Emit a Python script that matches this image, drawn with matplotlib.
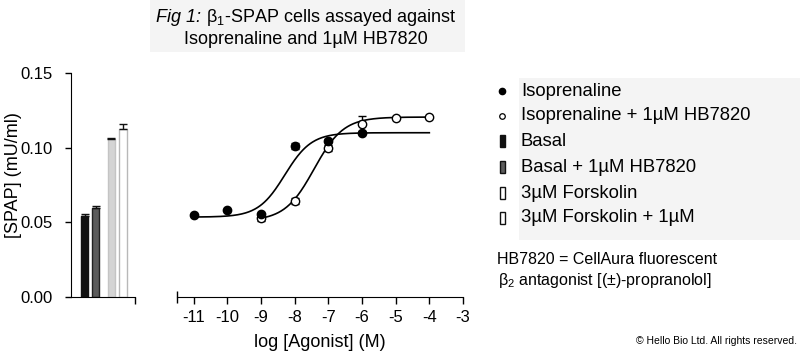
"""
Fig 1: beta1-SPAP cells assayed against isoprenaline and 1uM HB7820.
Bar panel (basal / forskolin) plus concentration-response curves.
"""

import matplotlib
matplotlib.use("Agg")
import matplotlib.pyplot as plt
from matplotlib.patches import Rectangle
from matplotlib.lines import Line2D
import numpy as np

plt.rcParams["font.family"] = ["Liberation Sans", "DejaVu Sans"]
plt.rcParams["mathtext.fontset"] = "custom"
plt.rcParams["mathtext.rm"] = "Liberation Sans"
plt.rcParams["mathtext.it"] = "Liberation Sans:italic"

# bar panel
bar_labels = ["Basal", "Basal + 1µM HB7820", "3µM Forskolin", "3µM Forskolin + 1µM"]
bar_values = [0.0543, 0.0598, 0.1060, 0.1127]
bar_errors = [0.0013, 0.0014, 0.0002, 0.0032]

# concentration-response points
log_iso = [-11, -10, -9, -8, -7, -6]
spap_iso = [0.0547, 0.0580, 0.0558, 0.1009, 0.1045, 0.1100]
err_iso = [0.0, 0.0, 0.0, 0.0020, 0.0010, 0.0]

log_iso_hb = [-9, -8, -7, -6, -5, -4]
spap_iso_hb = [0.0527, 0.0641, 0.1000, 0.1159, 0.1197, 0.1204]
err_iso_hb = [0.0015, 0.0020, 0.0020, 0.0050, 0.0, 0.0]

# sigmoid fit parameters (bottom, top, logEC50, hill)
fit_iso = (0.0535, 0.1100, -8.29, 1.1)
fit_iso_hb = (0.0510, 0.1205, -7.42, 1.0)
x_ticks = [-11, -10, -9, -8, -7, -6, -5, -4, -3]
y_ticks = [0.00, 0.05, 0.10, 0.15]

W, H = 800, 355


def fx(px):
    return px / W


def fy(py):
    return 1 - py / H


def hill(x, bottom, top, logec50, n):
    return bottom + (top - bottom) / (1 + 10 ** ((logec50 - x) * n))


fig = plt.figure(figsize=(8, 3.55), dpi=100)

# grey backgrounds behind the title and legend
fig.patches.append(Rectangle((fx(150), fy(52)), fx(315), 52 / H, transform=fig.transFigure,
                             facecolor="#f4f4f4", edgecolor="none", zorder=0))
fig.patches.append(Rectangle((fx(519), fy(240)), fx(281), 162 / H, transform=fig.transFigure,
                             facecolor="#f4f4f4", edgecolor="none", zorder=0))

# title line 1: italic "Fig 1:" followed by upright text, centred as one line
t_it = fig.text(0, fy(17), "Fig 1:", style="italic", ha="left", va="center", fontsize=13)
t_rest = fig.text(0, fy(17), r" $\mathregular{β_1}$-SPAP cells assayed against",
                  ha="left", va="center", fontsize=13)
renderer = fig.canvas.get_renderer()
w_it = t_it.get_window_extent(renderer).width
w_rest = t_rest.get_window_extent(renderer).width
x0 = 306 - (w_it + w_rest) / 2
t_it.set_x(fx(x0))
t_rest.set_x(fx(x0 + w_it))
fig.text(fx(306), fy(40), "Isoprenaline and 1µM HB7820", ha="center", va="center", fontsize=13)

bottom_px, top_px = 297, 73
ax_b = fig.add_axes([fx(71), fy(bottom_px), fx(64), (bottom_px - top_px) / H])
ax_c = fig.add_axes([fx(176.7), fy(bottom_px), fx(463 - 176.7), (bottom_px - top_px) / H])

# bars
bar_pos = [0, 1, 2.45, 3.5]
face = ["#111111", "#5c5c5c", "#d4d4d4", "#ffffff"]
edge = ["#111111", "#222222", "#c4c4c4", "#b8b8b8"]
ax_b.bar(bar_pos, bar_values, width=0.64, color=face, edgecolor=edge, linewidth=1.0)
ax_b.errorbar(bar_pos, bar_values, yerr=[np.zeros(4), bar_errors], fmt="none",
              ecolor="#111111", elinewidth=1.0, capsize=3, capthick=1.0)
ax_b.set_xlim(-1.23, 4.59)
ax_b.set_ylim(0, 0.15)
ax_b.set_yticks(y_ticks)
ax_b.set_yticklabels([f"{v:.2f}" for v in y_ticks])
ax_b.set_xticks([4.59])
ax_b.set_xticklabels([""])
for s in ["top", "right"]:
    ax_b.spines[s].set_visible(False)
ax_b.tick_params(axis="y", length=4.5, width=1.0, pad=9, labelsize=12)
ax_b.tick_params(axis="x", length=5, width=1.0)
fig.text(fx(14), fy(175), "[SPAP] (mU/ml)", rotation=90, ha="center", va="center", fontsize=13)

# curves
xs = np.linspace(-11, -4, 300)
ax_c.plot(xs, hill(xs, *fit_iso), color="black", lw=1.2)
xs2 = np.linspace(-9, -4, 300)
ax_c.plot(xs2, hill(xs2, *fit_iso_hb), color="black", lw=1.2)
ax_c.errorbar(log_iso, spap_iso, yerr=err_iso, fmt="o", ms=6, mfc="black", mec="black",
              ecolor="black", elinewidth=1.0, capsize=3, zorder=4)
ax_c.errorbar(log_iso_hb, spap_iso_hb, yerr=err_iso_hb, fmt="o", ms=6, mfc="white", mec="black",
              mew=1.0, ecolor="black", elinewidth=1.0, capsize=3, zorder=3)
ax_c.set_xlim(-11.5, -3)
ax_c.set_ylim(0, 0.15)
ax_c.set_xticks(x_ticks)
ax_c.set_xticklabels([str(t) for t in x_ticks])
ax_c.set_xticks([-11.5], minor=True)
ax_c.tick_params(axis="x", which="minor", direction="inout", length=8, width=1.0)
ax_c.tick_params(axis="x", which="major", length=5, width=1.0, pad=4, labelsize=12)
ax_c.set_yticks([])
for s in ["top", "right", "left"]:
    ax_c.spines[s].set_visible(False)
ax_c.set_xlabel("log [Agonist] (M)", fontsize=13, labelpad=7)

# legend, drawn by hand
leg_labels = ["Isoprenaline", "Isoprenaline + 1µM HB7820"] + bar_labels
leg_y = [91, 116, 141, 167, 193, 218]
fig.lines.append(Line2D([fx(502)], [fy(leg_y[0])], marker="o", ms=4.5, mfc="black", mec="black",
                        transform=fig.transFigure))
fig.lines.append(Line2D([fx(502)], [fy(leg_y[1])], marker="o", ms=4, mfc="white", mec="black",
                        mew=0.9, transform=fig.transFigure))
leg_face = ["#111111", "#5c5c5c", "#ffffff", "#ffffff"]
for i, y in enumerate(leg_y[2:]):
    fig.patches.append(Rectangle((fx(499.5), fy(y + 6)), fx(5), 12 / H, transform=fig.transFigure,
                                 facecolor=leg_face[i], edgecolor="#111111", linewidth=1.0))
for lab, y in zip(leg_labels, leg_y):
    fig.text(fx(521), fy(y), lab, ha="left", va="center", fontsize=13.3)

fig.text(fx(497), fy(259), "HB7820 = CellAura fluorescent", ha="left", va="center", fontsize=11.5)
fig.text(fx(498), fy(281), r"$\mathregular{β_2}$ antagonist [(±)-propranolol]", ha="left",
         va="center", fontsize=11.5)
fig.text(fx(797), fy(341), "© Hello Bio Ltd. All rights reserved.", ha="right", va="center",
         fontsize=7.5)

fig.savefig("out.png", dpi=100)
